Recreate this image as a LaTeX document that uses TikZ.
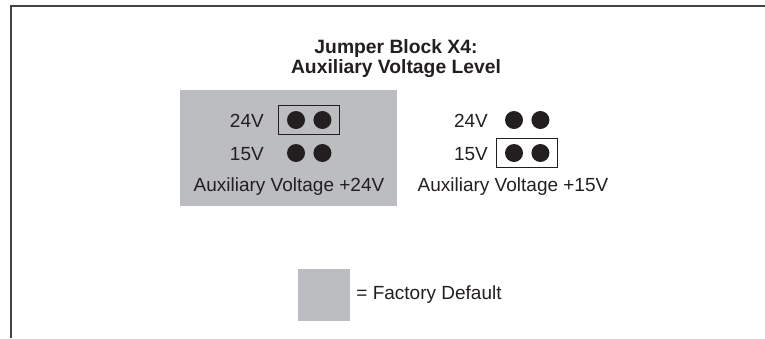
\documentclass[tikz,border=0pt]{standalone}
\usepackage{fontspec}
\setmainfont{Liberation Sans}
\usetikzlibrary{positioning,fit}
\definecolor{defgray}{HTML}{BCBDC0}
\definecolor{ink}{HTML}{231F20}
\tikzset{
  pin/.style={circle,fill=ink,minimum size=18pt,inner sep=0pt},
  jumper/.style={draw=ink,line width=1pt,inner xsep=8pt,inner ysep=5pt},
  lbl/.style={font=\fontsize{19}{20}\selectfont,text=ink,inner sep=0pt},
}
\begin{document}
\begin{tikzpicture}[x=1pt,y=-1pt,node distance=8pt]
\useasboundingbox (0,0) rectangle (765,338);
\draw[ink!85,line width=1.3pt] (765,6) -- (11,6) -- (11,338);
\node[lbl,font=\fontsize{19.3}{20}\selectfont\bfseries,align=center,anchor=base] (title) at (396,73) {Jumper Block X4:\\Auxiliary Voltage Level};
\node[fill=defgray,minimum width=217pt,minimum height=116pt,inner sep=0pt] (dflt) at (288.5,148) {};
\node[pin] (a1) at (296,120) {};
\node[pin,right=of a1] (a2) {};
\node[pin] (b1) at (296,153) {};
\node[pin,right=of b1] (b2) {};
\node[jumper,fit=(a1)(a2)] (ja) {};
\node[lbl,anchor=east] (a24) at (264,121) {24V};
\node[lbl,anchor=east] (a15) at (264,154) {15V};
\node[lbl] (acap) at (289,187) {Auxiliary Voltage +24V};
\node[pin] (c1) at (514,120) {};
\node[pin,right=of c1] (c2) {};
\node[pin] (d1) at (514,153) {};
\node[pin,right=of d1] (d2) {};
\node[jumper,fit=(d1)(d2)] (jd) {};
\node[lbl,anchor=east] (c24) at (488,121) {24V};
\node[lbl,anchor=east] (c15) at (488,154) {15V};
\node[lbl] (ccap) at (513,187) {Auxiliary Voltage +15V};
\node[fill=defgray,minimum size=52pt,inner sep=0pt] (key) at (324,295) {};
\node[lbl,right=6pt of key] (keytxt) {= Factory Default};
\end{tikzpicture}
\end{document}
